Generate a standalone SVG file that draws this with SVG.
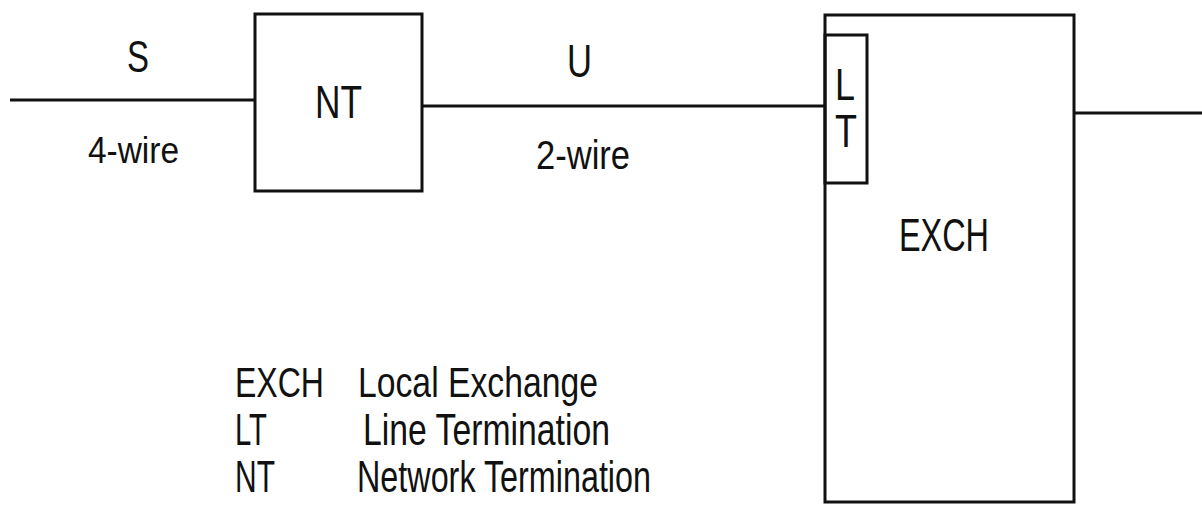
<svg xmlns="http://www.w3.org/2000/svg" width="1202" height="505" viewBox="0 0 1202 505">
<style>
.box{fill:none;stroke:#111;stroke-width:3}
.wire{stroke:#111;stroke-width:3;fill:none}
text{font-family:"Liberation Sans",Arial,sans-serif;fill:#111}
</style>
<rect width="1202" height="505" fill="#fff"/>
<g id="connectors">
<line class="wire" x1="10" y1="100" x2="255" y2="100"/>
<line class="wire" x1="422" y1="106" x2="825" y2="106"/>
<line class="wire" x1="1074" y1="113" x2="1202" y2="113"/>
</g>
<g id="labels">
<text x="127" y="72" font-size="44" textLength="22" lengthAdjust="spacingAndGlyphs">S</text>
<text x="88" y="163" font-size="36" textLength="91" lengthAdjust="spacingAndGlyphs">4-wire</text>
<text x="567" y="77" font-size="46" textLength="25" lengthAdjust="spacingAndGlyphs">U</text>
<text x="536" y="169" font-size="40" textLength="94" lengthAdjust="spacingAndGlyphs">2-wire</text>
</g>
<g id="nt">
<rect class="box" x="255" y="14" width="167" height="177"/>
<text x="315" y="118" font-size="46" textLength="47" lengthAdjust="spacingAndGlyphs">NT</text>
</g>
<g id="exch">
<rect class="box" x="825" y="15" width="249" height="487"/>
<text x="899" y="251" font-size="47" textLength="90" lengthAdjust="spacingAndGlyphs">EXCH</text>
</g>
<g id="lt">
<rect class="box" x="825" y="35" width="42" height="148"/>
<text x="835" y="100" font-size="44" textLength="20" lengthAdjust="spacingAndGlyphs">L</text>
<text x="835" y="147" font-size="46" textLength="22" lengthAdjust="spacingAndGlyphs">T</text>
</g>
<g id="legend">
<text x="235" y="397" font-size="42" textLength="89" lengthAdjust="spacingAndGlyphs">EXCH</text>
<text x="358" y="397" font-size="42" textLength="240" lengthAdjust="spacingAndGlyphs">Local Exchange</text>
<text x="235" y="445" font-size="44" textLength="32" lengthAdjust="spacingAndGlyphs">LT</text>
<text x="363" y="445" font-size="44" textLength="247" lengthAdjust="spacingAndGlyphs">Line Termination</text>
<text x="235" y="492" font-size="44" textLength="40" lengthAdjust="spacingAndGlyphs">NT</text>
<text x="357" y="492" font-size="44" textLength="294" lengthAdjust="spacingAndGlyphs">Network Termination</text>
</g>
</svg>
